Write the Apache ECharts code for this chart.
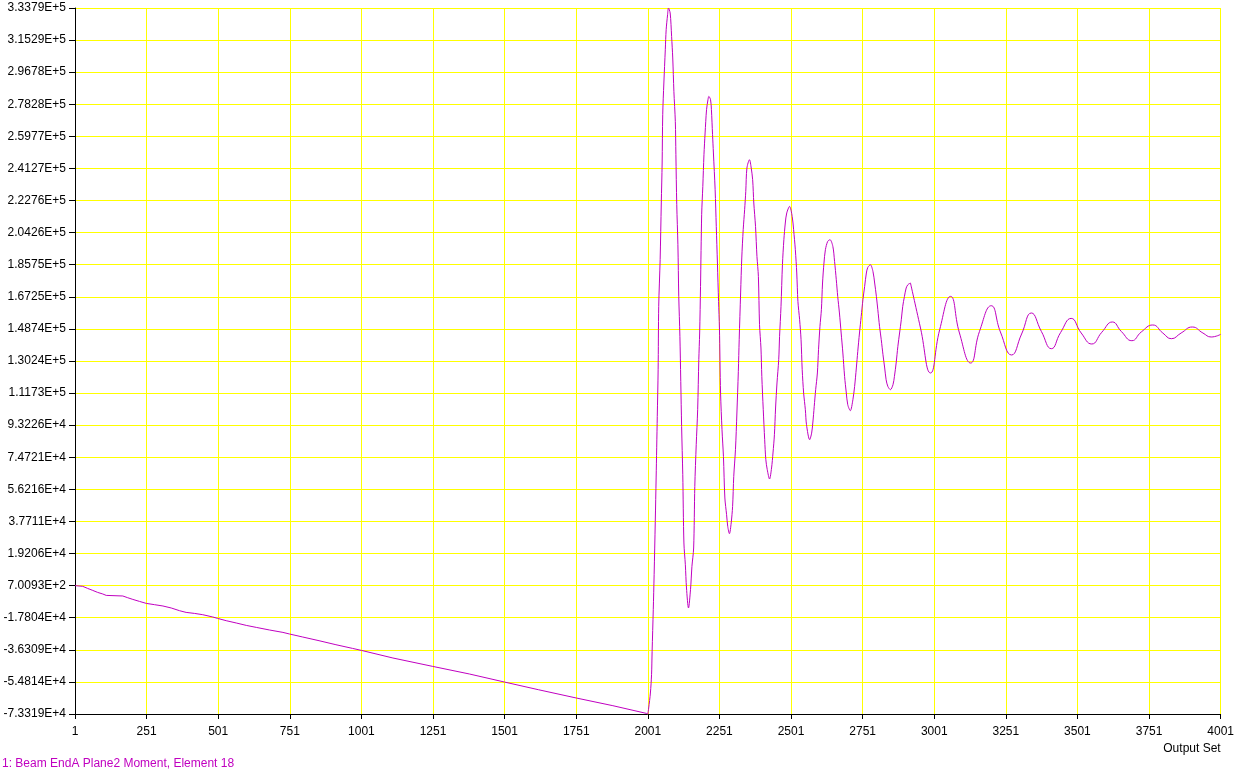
<!DOCTYPE html>
<html>
<head>
<meta charset="utf-8">
<script src="https://cdn.jsdelivr.net/npm/echarts@6/dist/echarts.min.js"></script>
<style>
html,body{margin:0;padding:0;background:#fff;}
#chart{width:1237px;height:774px;}
</style>
</head>
<body>
<div id="chart"></div>
<script>
// ---- data ----
const seriesName = '1: Beam EndA Plane2 Moment, Element 18';
const xAxisName = 'Output Set';

const yLabels = ['-7.3319E+4','-5.4814E+4','-3.6309E+4','-1.7804E+4','7.0093E+2','1.9206E+4','3.7711E+4',
  '5.6216E+4','7.4721E+4','9.3226E+4','1.1173E+5','1.3024E+5','1.4874E+5','1.6725E+5','1.8575E+5',
  '2.0426E+5','2.2276E+5','2.4127E+5','2.5977E+5','2.7828E+5','2.9678E+5','3.1529E+5','3.3379E+5'];
const yMin = -73319;
const yMax = 333790;
const yStep = 18505;

const xMin = 1;
const xMax = 4001;
const xStep = 250;

// first phase: slow ramp down
const rampSteps = [1, 28, 45, 63, 80, 98, 110, 168, 185, 203, 226, 250, 279, 308, 337, 366, 389, 418, 447, 482,
  499, 529, 564, 599, 634, 680, 727, 750, 796, 853, 912, 970, 1001, 1111, 1250, 1378, 1500, 1619, 1751, 1879, 1996, 2001];
const rampValues = [700, 300, -890, -2050, -3200, -4120, -4930, -5270, -6260, -7240, -8390, -9540, -10290, -11040,
  -12190, -13750, -14730, -15310, -16060, -17380, -18190, -19520, -20840, -22230, -23380, -24880, -26260, -27190,
  -28920, -31050, -33360, -35490, -36640, -41030, -45870, -50250, -54870, -59310, -64090, -68530, -72970, -73319];

// second phase: large oscillations (2001 .. peak near 2918)
const waveSteps = [2001, 2004, 2010, 2014, 2016, 2020, 2023, 2027, 2030, 2034, 2037, 2039, 2044, 2048, 2051, 2053,
  2057, 2062, 2065, 2070, 2073, 2079, 2084, 2088, 2092, 2097, 2099, 2102, 2106, 2109, 2113, 2119, 2123, 2127, 2132,
  2136, 2143, 2150, 2155, 2161, 2165, 2170, 2175, 2179, 2182, 2185, 2189, 2193, 2197, 2201, 2206, 2211, 2214,
  2220, 2223, 2227, 2230, 2236, 2240, 2244, 2248, 2251, 2255, 2260, 2265, 2270, 2276, 2280, 2286,
  2292, 2297, 2301, 2307, 2312, 2317, 2320, 2325, 2329, 2334, 2339, 2343, 2347, 2356,
  2362, 2367, 2371, 2377, 2382, 2387, 2391, 2396, 2399, 2404, 2409, 2413, 2418, 2426,
  2433, 2438, 2443, 2447, 2452, 2458, 2461, 2466, 2471, 2476, 2481, 2486, 2496,
  2505, 2510, 2516, 2521, 2525, 2531, 2536, 2540, 2545, 2551, 2555, 2566,
  2573, 2577, 2582, 2587, 2593, 2597, 2602, 2607, 2611, 2616, 2621, 2629, 2637,
  2647, 2653, 2659, 2664, 2670, 2676, 2682, 2688, 2694, 2699, 2708,
  2717, 2723, 2729, 2734, 2740, 2746, 2752, 2758, 2764, 2769, 2778,
  2787, 2793, 2799, 2804, 2810, 2816, 2822, 2828, 2833, 2839, 2848,
  2857, 2862, 2868, 2874, 2880, 2886, 2891, 2897, 2903, 2909, 2918];
const waveValues = [-73319, -69860, -61210, -50660, -37220, -13170, 7010, 37740, 62770, 98290, 125220, 161720,
  188650, 221350, 244410, 272260, 290540, 309740, 321280, 329930, 333790, 330910, 317410, 304960, 285700, 268400,
  249200, 220370, 197300, 167490, 144420, 92520, 64670, 25290, 12770, -660, -12190, -1640, 11790, 22400, 57930,
  81970, 102150, 130990, 146380, 173250, 214600, 230920, 249200, 261710, 275150, 280910, 282820,
  280910, 275150, 260730, 250180, 229010, 207850, 186750, 164600, 149270, 111780, 90620, 75220, 51240, 41610, 34860, 30650,
  36820, 46390, 63690, 79090, 100250, 124240, 142520, 169450, 189630, 205950, 217480, 228030, 241530, 246310,
  241530, 234780, 221350, 207850, 190550, 179020, 151170, 137730, 121360, 102150, 84850, 73320, 67560, 62190,
  68540, 77190, 87740, 103130, 117550, 130990, 144420, 161720, 185770, 200180, 209810, 215580, 219380,
  213620, 205950, 194420, 180980, 164600, 154050, 142520, 125220, 111780, 102150, 93500, 84850,
  88710, 94480, 104060, 113690, 123320, 136750, 150190, 159820, 175210, 186750, 194420, 199200, 200180,
  196320, 187670, 177120, 167490, 157920, 146380, 134850, 121360, 111780, 105040, 101580,
  107920, 115590, 126200, 135770, 146380, 155950, 165580, 173250, 180980, 184210, 185770,
  181900, 175210, 167490, 159820, 150190, 142520, 133870, 126200, 119450, 115590, 113690,
  116570, 121360, 129080, 138660, 146380, 154050, 161720, 167490, 172330, 174230, 175210];

// third phase: settling tail (peaks, troughs and mean-level crossings)
const tailSteps = [2918, 2953, 2988, 3020, 3058, 3089, 3128, 3159, 3200, 3232, 3271, 3306, 3340, 3375, 3410,
  3442, 3479, 3514, 3551, 3586, 3623, 3654, 3691, 3724, 3764, 3799, 3829, 3863, 3902, 3939, 3968, 4001];
const tailValues = [175210, 149270, 123320, 148290, 167490, 146380, 129080, 147300, 162120, 147000, 133700,
  145800, 157920, 147300, 137330, 146600, 154800, 146400, 140040, 146800, 152730, 147300, 141940, 147000,
  151000, 146380, 143100, 146380, 149840, 146380, 144080, 145580];

// ---- chart ----
const lineColor = '#C000C0';
const font = '"Liberation Sans", Arial, sans-serif';

function pairs(xs, ys) { return xs.map((x, i) => [x, ys[i]]); }

const chart = echarts.init(document.getElementById('chart'), null, { renderer: 'canvas' });
chart.setOption({
  animation: false,
  backgroundColor: '#ffffff',
  title: {
    text: seriesName,
    left: 2,
    top: 758,
    padding: 0,
    textStyle: { fontFamily: font, fontSize: 12, fontWeight: 'normal', color: lineColor }
  },
  grid: { left: 75, right: 16, top: 8, bottom: 60, containLabel: false },
  xAxis: {
    type: 'value',
    min: xMin, max: xMax, interval: xStep,
    name: xAxisName,
    nameLocation: 'end',
    nameGap: 0,
    nameTextStyle: { fontFamily: font, fontSize: 12, color: '#000', align: 'right', verticalAlign: 'top', padding: [29, 0, 0, 0] },
    axisLine: { show: true, onZero: false, lineStyle: { color: '#000', width: 1 } },
    axisTick: { show: true, inside: false, length: 5, lineStyle: { color: '#000' } },
    axisLabel: { fontFamily: font, fontSize: 12, color: '#000', margin: 12, showMinLabel: true, showMaxLabel: true,
      formatter: v => String(Math.round(v)) },
    splitLine: { show: true, lineStyle: { color: '#FFFF00', width: 1 } }
  },
  yAxis: {
    type: 'value',
    min: yMin, max: yMax, interval: yStep,
    axisLine: { show: true, onZero: false, lineStyle: { color: '#000', width: 1 } },
    axisTick: { show: true, inside: false, length: 6, lineStyle: { color: '#000' } },
    axisLabel: { fontFamily: font, fontSize: 12, color: '#000', margin: 9, showMinLabel: true, showMaxLabel: true,
      formatter: v => {
        const i = Math.round((v - yMin) / yStep);
        return yLabels[i] !== undefined ? yLabels[i] : '';
      } },
    splitLine: { show: true, lineStyle: { color: '#FFFF00', width: 1 } }
  },
  series: [
    {
      name: seriesName, type: 'line', showSymbol: false, smooth: false,
      lineStyle: { color: lineColor, width: 1 },
      data: pairs(rampSteps, rampValues)
    },
    {
      name: seriesName, type: 'line', showSymbol: false, smooth: 0.3,
      lineStyle: { color: lineColor, width: 1 },
      data: pairs(waveSteps, waveValues)
    },
    {
      name: seriesName, type: 'line', showSymbol: false, smooth: 0.5,
      lineStyle: { color: lineColor, width: 1 },
      data: pairs(tailSteps, tailValues)
    }
  ]
});
</script>
</body>
</html>
